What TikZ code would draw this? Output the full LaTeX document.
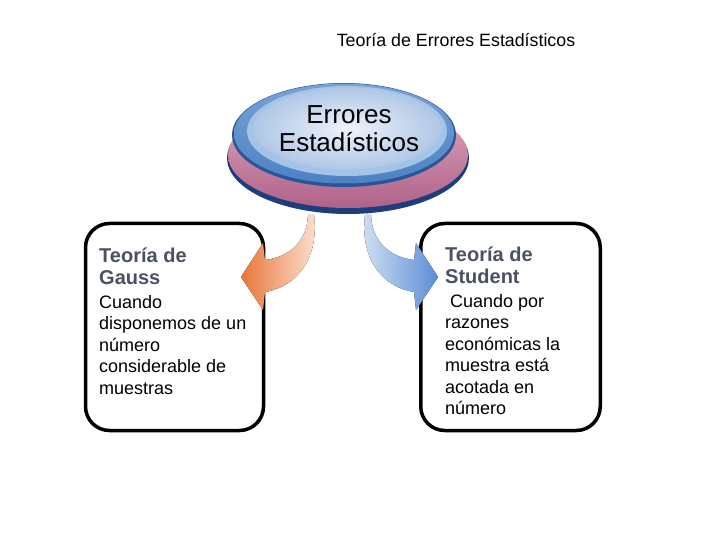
\documentclass[tikz,border=0pt]{standalone}
\usepackage{fontspec}
\setmainfont{Liberation Sans}
\usepackage{tikz}
\usetikzlibrary{positioning,shapes.geometric}
\definecolor{slate}{HTML}{4A5262}
\definecolor{navy}{HTML}{1C3E7C}
\definecolor{mauvetop}{HTML}{DDA9BB}
\definecolor{mauvebot}{HTML}{B0628A}
\definecolor{ringblue}{HTML}{4C82C4}
\definecolor{rimblue}{HTML}{2A5596}
\definecolor{paleblue}{HTML}{A3C3E8}
\definecolor{capcenter}{HTML}{EEF3FA}
\definecolor{capedge}{HTML}{AFC7E6}
\definecolor{peach}{HTML}{FBE4D4}
\definecolor{carrot}{HTML}{E8763A}
\definecolor{icyblue}{HTML}{D3E2F3}
\definecolor{skyblue}{HTML}{5A8DD5}
\tikzset{
  card/.style   ={draw=black,line width=3.5pt,rounded corners=24pt,fill=white},
  heading/.style={anchor=north west,inner sep=0pt,align=left,text=slate,
                  font=\fontsize{20}{22}\selectfont\bfseries},
  body/.style   ={inner sep=0pt,align=left,font=\fontsize{18}{21.5}\selectfont},
  disc/.style   ={ellipse,inner sep=0pt}
}

\begin{document}
\begin{tikzpicture}[x=1pt,y=-1pt,node distance=10pt]
    \useasboundingbox (0,0) rectangle (720,540);
    % title
    \node[font=\fontsize{17.8}{20}\selectfont] (title) at (456,40) {Teoría de Errores Estadísticos};
    % the two cards
    \node[card,minimum width=178,minimum height=207] (gauss) at (174.5,327) {};
    \node[card,minimum width=179.5,minimum height=207] (student) at (510.5,327) {};
    \node[heading] (gausshd) at (99,247.5) {Teoría de\\Gauss};
    \node[body,below right=10pt and 0pt of gausshd.south west,anchor=north west] (gausstxt)
      {Cuando\\disponemos de un\\número\\considerable de\\muestras};
    \node[heading] (studenthd) at (445,246.5) {Teoría de\\Student};
    \node[body,below right=10pt and 0pt of studenthd.south west,anchor=north west] (studenttxt)
      {\ Cuando por\\razones\\económicas la\\muestra está\\acotada en\\número};
    % curved arrows
    \fill[left color=carrot,right color=peach]
      (308,215) -- (314,215) .. controls (319,255) and (300,286) .. (265,292)
      -- (263,310) -- (241,277) -- (263,243) -- (265,260)
      .. controls (290,257) and (307,241) .. (308,215) -- cycle;
    \fill[left color=icyblue,right color=skyblue]
      (371,215) -- (365,215) .. controls (360,255) and (379,286) .. (414,292)
      -- (416,310) -- (438,277) -- (416,243) -- (414,260)
      .. controls (389,257) and (372,241) .. (371,215) -- cycle;
    % central button
    \node[disc,fill=navy,minimum width=242,minimum height=112] (rim) at (348,158) {};
    \node[disc,top color=mauvetop,bottom color=mauvebot,minimum width=240,minimum height=106] (base) at (348,155) {};
    \node[disc,fill=rimblue,minimum width=224,minimum height=104] (capedge) at (344,135) {};
    \node[disc,top color=ringblue!75,bottom color=ringblue,minimum width=220,minimum height=100] (cap) at (344,133.5) {};
    \node[disc,fill=paleblue,minimum width=200,minimum height=90] (band) at (347,131) {};
    \node[disc,inner color=capcenter,outer color=capedge,minimum width=188,minimum height=82] (face) at (347.5,128.5) {};
    \node[align=center,font=\fontsize{26}{28}\selectfont] (errtxt) at (349,129) {Errores\\Estadísticos};
\end{tikzpicture}
\end{document}
